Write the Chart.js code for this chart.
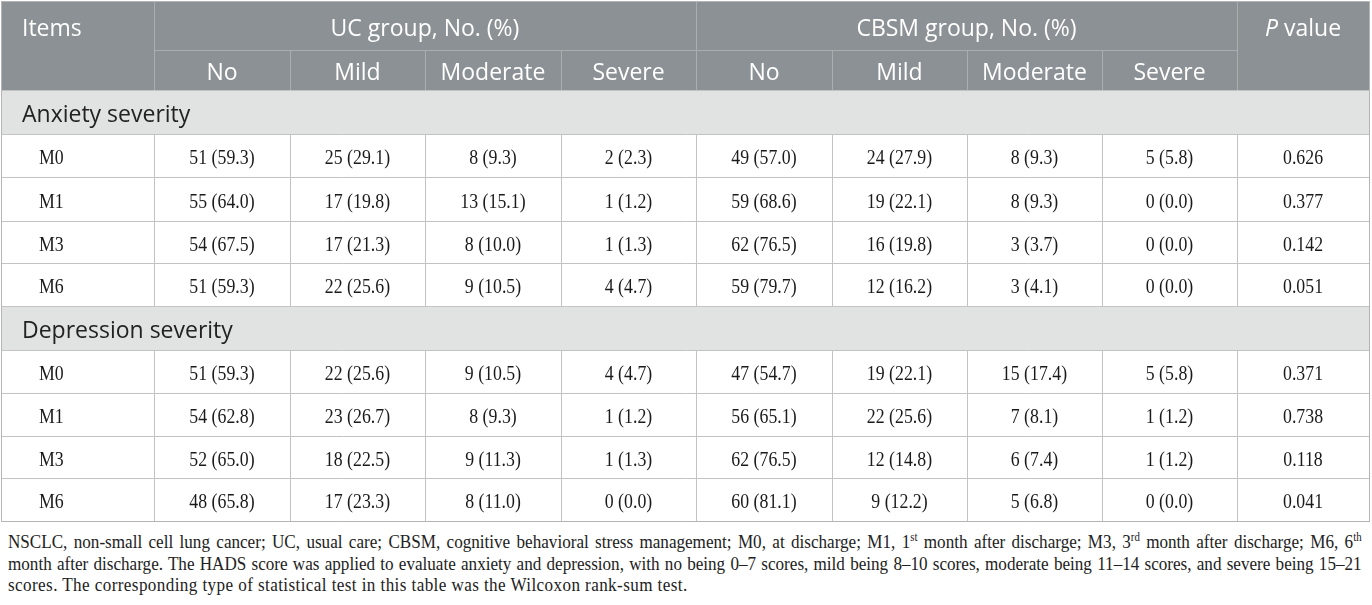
<!DOCTYPE html>
<html>
<head>
<meta charset="utf-8">
<script src="https://cdn.jsdelivr.net/npm/chart.js@4"></script>
<style>
  body { margin: 0; background: #fff; }
  #wrap { position: relative; width: 1372px; height: 523px; }
  #notes { margin-top: 8px; margin-left: 8px; font-family: "Liberation Serif", serif; font-size: 19px; color: #222; }
  #notes div { width: 1504px; line-height: 21.5px; transform: scaleX(0.9); transform-origin: left top; white-space: nowrap; }
  #notes div.j { text-align: justify; text-align-last: justify; white-space: normal; }
  #notes div.last { letter-spacing: 0.45px; }
  #notes sup { font-size: 12px; line-height: 0; vertical-align: 7px; }
</style>
</head>
<body>
<div id="wrap"><canvas id="chart"></canvas></div>
<div id="notes">
  <div class="j">NSCLC, non-small cell lung cancer; UC, usual care; CBSM, cognitive behavioral stress management; M0, at discharge; M1, 1<sup>st</sup> month after discharge; M3, 3<sup>rd</sup> month after discharge; M6, 6<sup>th</sup></div>
  <div class="j">month after discharge. The HADS score was applied to evaluate anxiety and depression, with no being 0–7 scores, mild being 8–10 scores, moderate being 11–14 scores, and severe being 15–21</div>
  <div class="last">scores. The corresponding type of statistical test in this table was the Wilcoxon rank-sum test.</div>
</div>
<script>
// table content
const firstHeader = "Items";
const groups = ["UC group, No. (%)", "CBSM group, No. (%)"];
const levels = ["No", "Mild", "Moderate", "Severe"];
const sections = ["Anxiety severity", "Depression severity"];
const timepoints = ["M0", "M1", "M3", "M6"];

const anxUCn = [[51, 25, 8, 2], [55, 17, 13, 1], [54, 17, 8, 1], [51, 22, 9, 4]];
const anxUCp = [[59.3, 29.1, 9.3, 2.3], [64.0, 19.8, 15.1, 1.2], [67.5, 21.3, 10.0, 1.3], [59.3, 25.6, 10.5, 4.7]];
const anxCBn = [[49, 24, 8, 5], [59, 19, 8, 0], [62, 16, 3, 0], [59, 12, 3, 0]];
const anxCBp = [[57.0, 27.9, 9.3, 5.8], [68.6, 22.1, 9.3, 0.0], [76.5, 19.8, 3.7, 0.0], [79.7, 16.2, 4.1, 0.0]];
const anxP = [0.626, 0.377, 0.142, 0.051];

const depUCn = [[51, 22, 9, 4], [54, 23, 8, 1], [52, 18, 9, 1], [48, 17, 8, 0]];
const depUCp = [[59.3, 25.6, 10.5, 4.7], [62.8, 26.7, 9.3, 1.2], [65.0, 22.5, 11.3, 1.3], [65.8, 23.3, 11.0, 0.0]];
const depCBn = [[47, 19, 15, 5], [56, 22, 7, 1], [62, 12, 6, 1], [60, 9, 5, 0]];
const depCBp = [[54.7, 22.1, 17.4, 5.8], [65.1, 25.6, 8.1, 1.2], [76.5, 14.8, 7.4, 1.2], [81.1, 12.2, 6.8, 0.0]];
const depP = [0.371, 0.738, 0.118, 0.041];

// layout (column widths / row heights in scale units)
const colW = [153, 136, 135, 136, 135, 136, 135, 135, 135, 132];
const rowH = [49, 40, 44, 43, 44, 42, 43, 44, 43, 43, 42, 43];

const colE = [0];
colW.forEach(w => colE.push(colE[colE.length - 1] + w));
const rowE = [0];
rowH.forEach(h => rowE.push(rowE[rowE.length - 1] + h));
const colMid = i => (colE[i] + colE[i + 1]) / 2;
const rowMid = i => (rowE[i] + rowE[i + 1]) / 2;

const SANS = '"Open Sans", sans-serif';
const SERIF = '"Liberation Serif", serif';
const HEAD_BG = "#8b9194";
const SEC_BG = "#e1e3e2";

// build one point per text cell
const cells = [];
cells.push({ x: colE[0] + 21, y: rowMid(0), text: firstHeader, kind: "head", align: "left" });
groups.forEach((g, gi) => {
  cells.push({ x: (colE[1 + gi * 4] + colE[5 + gi * 4]) / 2, y: rowMid(0), text: g, kind: "head" });
  levels.forEach((l, li) => {
    cells.push({ x: colMid(1 + gi * 4 + li), y: rowMid(1), text: l, kind: "head" });
  });
});
cells.push({ x: colMid(9), y: rowMid(0), text: "P value", kind: "headP" });

const blocks = [
  { title: sections[0], ucN: anxUCn, ucP: anxUCp, cbN: anxCBn, cbP: anxCBp, p: anxP, row: 2 },
  { title: sections[1], ucN: depUCn, ucP: depUCp, cbN: depCBn, cbP: depCBp, p: depP, row: 7 }
];
blocks.forEach(b => {
  cells.push({ x: colE[0] + 21, y: rowMid(b.row), text: b.title, kind: "section", align: "left" });
  timepoints.forEach((t, ti) => {
    const r = b.row + 1 + ti;
    cells.push({ x: colE[0] + 38, y: rowMid(r), text: t, kind: "data", align: "left" });
    for (let k = 0; k < 4; k++) {
      cells.push({ x: colMid(1 + k), y: rowMid(r), text: b.ucN[ti][k] + " (" + b.ucP[ti][k].toFixed(1) + ")", kind: "data" });
      cells.push({ x: colMid(5 + k), y: rowMid(r), text: b.cbN[ti][k] + " (" + b.cbP[ti][k].toFixed(1) + ")", kind: "data" });
    }
    cells.push({ x: colMid(9), y: rowMid(r), text: b.p[ti].toFixed(3), kind: "data" });
  });
});

const tablePlugin = {
  id: "tableGrid",
  beforeDatasetsDraw(chart) {
    const { ctx, scales: { x, y } } = chart;
    const px = v => Math.round(x.getPixelForValue(v));
    const py = v => Math.round(y.getPixelForValue(v));
    ctx.save();
    // backgrounds
    ctx.fillStyle = HEAD_BG;
    ctx.fillRect(px(0), py(0), px(colE[10]) - px(0), py(rowE[2]) - py(0));
    ctx.fillStyle = SEC_BG;
    blocks.forEach(b => {
      ctx.fillRect(px(0), py(rowE[b.row]), px(colE[10]) - px(0), py(rowE[b.row + 1]) - py(rowE[b.row]));
    });

    const hline = (r, c0, c1, col) => {
      ctx.strokeStyle = col;
      ctx.beginPath();
      ctx.moveTo(px(colE[c0]), py(rowE[r]) + 0.5);
      ctx.lineTo(px(colE[c1]) + 1, py(rowE[r]) + 0.5);
      ctx.stroke();
    };
    const vline = (c, r0, r1, col) => {
      ctx.strokeStyle = col;
      ctx.beginPath();
      ctx.moveTo(px(colE[c]) + 0.5, py(rowE[r0]));
      ctx.lineTo(px(colE[c]) + 0.5, py(rowE[r1]) + 1);
      ctx.stroke();
    };
    ctx.lineWidth = 1;
    // header inner lines
    const HL = "#a9aeb1";
    hline(1, 1, 9, HL);
    [1, 5, 9].forEach(c => vline(c, 0, 2, HL));
    [2, 3, 4, 6, 7, 8].forEach(c => vline(c, 1, 2, HL));
    // body lines
    const BL = "#c3c3c3";
    for (let r = 2; r <= 12; r++) hline(r, 0, 10, BL);
    blocks.forEach(b => {
      for (let c = 1; c <= 9; c++) vline(c, b.row + 1, b.row + 5, BL);
    });
    // outer border
    const OB = "#b4b4b4";
    hline(0, 0, 10, OB);
    vline(0, 0, 12, OB);
    vline(10, 0, 12, OB);
    hline(12, 0, 10, OB);
    ctx.restore();
  },
  afterDatasetsDraw(chart) {
    const { ctx } = chart;
    const meta = chart.getDatasetMeta(0);
    ctx.save();
    meta.data.forEach((el, i) => {
      const c = cells[i];
      let font, color, cap, sx = 1;
      if (c.kind === "head" || c.kind === "headP") {
        font = "23px " + SANS; color = "#ffffff"; cap = 16.5;
      } else if (c.kind === "section") {
        font = "23px " + SANS; color = "#222222"; cap = 16.5;
      } else {
        font = "20px " + SERIF; color = "#1a1a1a"; cap = 13.2; sx = 0.89;
      }
      ctx.fillStyle = color;
      ctx.textBaseline = "alphabetic";
      const base = el.y + cap / 2 + 2;
      if (c.kind === "headP") {
        ctx.font = "italic " + font;
        const w1 = ctx.measureText("P").width;
        ctx.font = font;
        const w2 = ctx.measureText(" value").width;
        const x0 = el.x - (w1 + w2) / 2;
        ctx.textAlign = "left";
        ctx.font = "italic " + font;
        ctx.fillText("P", x0, base);
        ctx.font = font;
        ctx.fillText(" value", x0 + w1, base);
        return;
      }
      ctx.font = font;
      ctx.textAlign = c.align || "center";
      ctx.save();
      ctx.translate(el.x, base);
      ctx.scale(sx, 1);
      ctx.fillText(c.text, 0, 0);
      ctx.restore();
    });
    ctx.restore();
  }
};

const ctx = document.getElementById("chart").getContext("2d");
const chart = new Chart(ctx, {
  type: "scatter",
  data: {
    datasets: [{
      data: cells.map(c => ({ x: c.x, y: c.y })),
      pointRadius: 0,
      pointHoverRadius: 0
    }]
  },
  options: {
    responsive: true,
    maintainAspectRatio: false,
    animation: false,
    events: [],
    layout: { padding: { left: 1, top: 1, right: 3, bottom: 2 } },
    plugins: { legend: { display: false }, tooltip: { enabled: false } },
    scales: {
      x: { type: "linear", min: 0, max: colE[10], display: false },
      y: { type: "linear", min: 0, max: rowE[12], reverse: true, display: false }
    }
  },
  plugins: [tablePlugin]
});
</script>
</body>
</html>
